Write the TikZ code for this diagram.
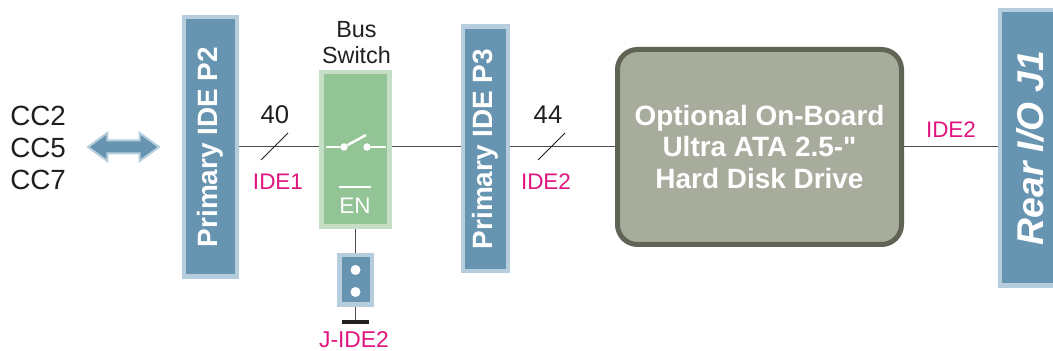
\documentclass[tikz,border=0pt]{standalone}
\usepackage{fontspec}
\setmainfont{Liberation Sans}
\newfontfamily\rawfont{Liberation Sans}
\usetikzlibrary{shapes.arrows}

\definecolor{bluefill}{HTML}{6794B0}
\definecolor{blueedge}{HTML}{B5CDDC}
\definecolor{greenfill}{HTML}{93C495}
\definecolor{greenedge}{HTML}{C5DFC7}
\definecolor{hddfill}{HTML}{A7AC9D}
\definecolor{hddedge}{HTML}{5F6455}
\definecolor{signal}{HTML}{E0147F}
\definecolor{ink}{HTML}{231F20}
\definecolor{wire}{HTML}{4D4D4D}

\tikzset{
    conn/.style={draw=blueedge, fill=bluefill, line width=0.09cm, rotate=90, text=white, inner sep=0pt,
        font=\bfseries\fontsize{15.9}{15.9}\selectfont},
    label/.style={text=ink, inner sep=0pt, font=\fontsize{14.6}{14.6}\selectfont},
    sig/.style={text=signal, inner sep=0pt, font=\fontsize{12.8}{12.8}\selectfont},
    wire/.style={draw=wire, line width=0.02cm},
    contact/.style={circle, fill=white, inner sep=0pt, minimum size=0.15cm},
    pin/.style={circle, fill=white, inner sep=0pt, minimum size=0.2cm}
}

\begin{document}
\begin{tikzpicture}
            \clip (0, 0) rectangle (21.06, 7.02);

            \node[label, anchor=west, font=\fontsize{15.8}{15.8}\selectfont] at (0.2, 4.7)     (cc2) {CC2};
            \node[label, anchor=west, font=\fontsize{15.8}{15.8}\selectfont] at (0.2, 4.06)    (cc5) {CC5};
            \node[label, anchor=west, font=\fontsize{15.8}{15.8}\selectfont] at (0.2, 3.42)    (cc7) {CC7};

            \node[double arrow, draw=blueedge, fill=bluefill, line width=0.04cm, minimum height=1.42cm,
                double arrow head extend=0.15cm, double arrow tip angle=72, inner xsep=0pt, inner ysep=0.11cm] at (2.47, 4.08) (host) {};

            \node[conn, minimum width=5.19cm, minimum height=1.06cm] at (4.21, 4.08)   (p2) {Primary IDE P2};
            \node[conn, minimum width=4.89cm, minimum height=0.9cm] at (9.71, 4.04)    (p3) {Primary IDE P3};
            \node[conn, minimum width=5.51cm, minimum height=1.2cm, font=\bfseries\itshape\fontsize{21.2}{21.2}\selectfont] at (20.6, 4.06)  (j1) {Rear I/O J1};

            \node[draw=greenedge, fill=greenfill, line width=0.09cm, minimum width=1.36cm, minimum height=3.09cm] at (7.11, 4.03) (sw) {};
            \node[label, font=\fontsize{13.3}{13.3}\selectfont] at (7.13, 6.42)      (bus) {Bus};
            \node[label, font=\fontsize{13.3}{13.3}\selectfont] at (7.13, 5.92)      (switch) {Switch};
            \node[text=white, inner sep=0pt, font=\fontsize{12.8}{12.8}\selectfont] at (7.1, 2.9) (en) {EN};
            \draw[white, line width=0.055cm] (6.78, 3.28) -- (7.42, 3.28);

            \node[contact] at (6.88, 4.08)    (sw_a) {};
            \node[contact] at (7.34, 4.08)    (sw_b) {};
            \coordinate (sw_in) at (6.52, 4.08);
            \coordinate (sw_out) at (7.72, 4.08);
            \coordinate (sw_blade) at (7.32, 4.32);
            \draw[white, line width=0.05cm] (sw_in) -- (sw_a);
            \draw[white, line width=0.05cm] (sw_b) -- (sw_out);
            \draw[white, line width=0.05cm] (sw_a) -- (sw_blade);

            \node[draw=blueedge, fill=bluefill, line width=0.09cm, minimum width=0.65cm, minimum height=0.99cm] at (7.11, 1.42) (jp) {};
            \node[pin] at (7.11, 1.62)        (jp_a) {};
            \node[pin] at (7.11, 1.18)        (jp_b) {};
            \node[fill=ink, inner sep=0pt, minimum width=0.54cm, minimum height=0.08cm] at (7.11, 0.58) (gnd) {};
            \node[sig, font=\fontsize{13}{13}\selectfont] at (7.08, 0.23) (jide) {J-IDE2};

            \node[draw=hddedge, fill=hddfill, line width=0.1cm, rounded corners=0.4cm, minimum width=5.68cm, minimum height=3.9cm,
                text=white, align=center, font=\rawfont\bfseries\fontsize{15.9}{18}\selectfont] at (15.19, 4.08) (hdd)
                {Optional On-Board\\Ultra ATA 2.5-"\\Hard Disk Drive};

            \node[label] at (5.5, 4.72)       (n40) {40};
            \node[label] at (10.96, 4.72)     (n44) {44};
            \node[sig] at (5.56, 3.38)        (ide1) {IDE1};
            \node[sig] at (10.92, 3.38)       (ide2a) {IDE2};
            \node[sig] at (19.02, 4.42)       (ide2b) {IDE2};

            \coordinate (s40_a) at (5.22, 3.82);
            \coordinate (s40_b) at (5.76, 4.36);
            \coordinate (s44_a) at (10.76, 3.82);
            \coordinate (s44_b) at (11.3, 4.36);

            \draw[wire] (p2.south) -- (sw.west |- p2.south);
            \draw[wire] (sw.east |- p2.south) -- (p3.north |- p2.south);
            \draw[wire] (p3.south |- hdd.west) -- (hdd.west);
            \draw[wire] (hdd.east) -- (j1.north |- hdd.east);
            \draw[wire] (sw) -- (jp);
            \draw[wire] (jp) -- (gnd);
            \draw[draw=ink, line width=0.015cm] (s40_a) -- (s40_b);
            \draw[draw=ink, line width=0.015cm] (s44_a) -- (s44_b);
        \end{tikzpicture}
\end{document}
